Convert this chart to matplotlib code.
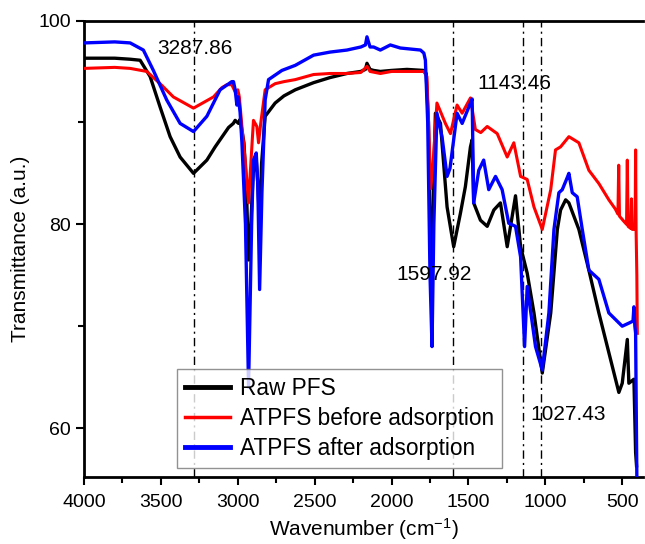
import matplotlib
matplotlib.use("Agg")
import matplotlib.pyplot as plt
from matplotlib.ticker import MultipleLocator

plt.rcParams['font.family'] = ['Liberation Sans', 'DejaVu Sans']
plt.rcParams['mathtext.default'] = 'regular'

# ---------------- data ----------------
raw_x = [4000, 3800, 3700, 3635, 3570, 3505, 3440, 3375, 3288, 3201, 3147, 3115, 3060, 3029, 3017,
         2995, 2985, 2960, 2945, 2930, 2915, 2900, 2882, 2870, 2858, 2845, 2822, 2757, 2700, 2626,
         2507, 2400, 2290, 2200, 2170, 2160, 2140, 2117, 2073, 2000, 1900, 1791, 1775, 1760, 1745,
         1738, 1725, 1715, 1682, 1639, 1596, 1552, 1520, 1487, 1476, 1466, 1422, 1378, 1335, 1292,
         1248, 1194, 1161, 1118, 1074, 1020, 965, 922, 901, 868, 847, 782, 717, 652, 587, 522, 500,
         467, 457, 424, 413, 407]
raw_y = [96.3, 96.3, 96.2, 96.1, 94.5, 91.5, 88.6, 86.6, 85.0, 86.3, 87.6, 88.3, 89.5, 89.9, 90.2,
         89.9, 90.3, 88.0, 84.0, 76.5, 80.0, 85.0, 86.8, 84.0, 80.0, 86.0, 90.6, 91.9, 92.6, 93.2,
         93.9, 94.4, 94.8, 95.0, 95.2, 95.8, 95.2, 95.1, 95.0, 95.1, 95.2, 95.1, 94.8, 90.0, 76.0,
         74.0, 85.0, 90.9, 89.9, 81.7, 77.8, 81.1, 83.7, 87.6, 88.3, 82.1, 80.4, 79.8, 81.4, 82.1,
         77.8, 82.8, 77.8, 75.2, 71.3, 65.4, 71.3, 79.5, 81.4, 82.4, 82.1, 79.5, 75.5, 71.3, 67.4, 63.5, 64.4,
         68.7, 64.4, 64.8, 57.6, 56.3]

before_x = [4000, 3800, 3700, 3592, 3505, 3419, 3288, 3158, 3104, 3071, 3039, 3017, 3000, 2990, 2973,
            2950, 2930, 2915, 2898, 2876, 2865, 2850, 2822, 2757, 2700, 2626, 2507, 2400, 2290, 2200,
            2160, 2140, 2073, 2000, 1900, 1791, 1770, 1755, 1745, 1730, 1705, 1650, 1617, 1574, 1541,
            1487, 1455, 1420, 1378, 1313, 1248, 1205, 1161, 1118, 1074, 1020, 965, 934, 901, 847, 782,
            717, 652, 587, 545, 528, 523, 518, 490, 472, 467, 462, 445, 440, 435, 420, 416, 413, 410,
            405, 402]
before_y = [95.3, 95.4, 95.3, 95.0, 93.8, 92.5, 91.4, 92.5, 93.4, 93.7, 93.7, 93.0, 93.2, 92.5, 89.6,
            86.0, 82.1, 86.0, 90.2, 89.6, 88.0, 90.0, 93.2, 93.8, 94.0, 94.2, 94.7, 94.8, 94.8, 94.9,
            95.5, 95.0, 94.8, 95.0, 95.0, 95.0, 94.5, 88.0, 83.5, 86.0, 91.9, 89.9, 88.9, 91.7, 90.9,
            92.4, 89.3, 89.0, 89.6, 88.9, 86.6, 88.0, 84.7, 84.4, 81.7, 79.5, 83.4, 87.3, 87.6, 88.6, 88.0,
            85.3, 84.0, 82.4, 81.5, 81.0, 85.8, 80.8, 80.3, 80.0, 86.3, 79.8, 79.6, 82.5, 79.5, 79.5, 80.0,
            87.3, 79.5, 75.0, 69.3]

after_x = [4000, 3800, 3700, 3614, 3549, 3462, 3375, 3288, 3201, 3115, 3039, 3028, 3017, 3006, 2997,
           2985, 2973, 2950, 2930, 2910, 2898, 2880, 2870, 2858, 2843, 2822, 2800, 2713, 2626, 2507,
           2400, 2290, 2200, 2170, 2160, 2140, 2117, 2073, 2008, 1943, 1812, 1790, 1780, 1765, 1750,
           1737, 1725, 1705, 1672, 1639, 1620, 1574, 1541, 1487, 1476, 1466, 1433, 1401, 1368, 1324,
           1281, 1238, 1194, 1161, 1135, 1118, 1064, 1020, 977, 944, 912, 890, 860, 847, 825, 793, 760,
           717, 652, 587, 500, 457, 430, 424, 418, 413, 409, 405]
after_y = [97.8, 97.9, 97.8, 97.1, 95.1, 92.2, 89.9, 89.1, 90.6, 93.2, 94.0, 94.0, 93.2, 91.7, 92.5,
           91.0, 88.0, 80.0, 64.0, 80.0, 86.3, 87.0, 84.0, 73.6, 83.1, 92.2, 94.2, 95.1, 95.6, 96.6,
           96.9, 97.1, 97.4, 97.6, 98.4, 97.4, 97.4, 97.1, 97.6, 97.3, 97.1, 96.8, 96.1, 90.0, 75.0,
           68.0, 80.0, 90.9, 88.6, 84.7, 85.5, 90.9, 89.9, 91.9, 92.3, 82.1, 85.3, 86.3, 83.4, 84.7,
           83.4, 80.1, 79.8, 76.8, 68.0, 73.9, 68.0, 65.7, 71.3, 79.5, 83.1, 83.4, 84.5, 85.0, 83.1, 82.7, 79.5,
           75.5, 74.6, 71.3, 70.0, 70.3, 70.5, 71.9, 70.0, 69.3, 62.0, 55.2]

series_names = ['Raw PFS', 'ATPFS before adsorption', 'ATPFS after adsorption']
series_colors = ['#000000', '#ff0000', '#0000ff']

peak_positions = [3287.86, 1597.92, 1143.46, 1027.43]
peak_labels = ['3287.86', '1597.92', '1143.46', '1027.43']
label_xy = [(3281, 97.3), (1726, 75.05), (1202, 93.84), (850, 61.3)]

x_ticks = [4000, 3500, 3000, 2500, 2000, 1500, 1000, 500]
y_ticks = [60, 80, 100]

# ---------------- figure ----------------
fig = plt.figure(figsize=(6.45, 5.44), dpi=100)
ax = fig.add_axes([84/645, 1 - 477/544, (643-84)/645, (477-20.5)/544])

for px in peak_positions:
    ax.axvline(px, color='black', lw=1.0, linestyle=(0, (6, 3, 1.5, 3)), zorder=1)

ax.plot(raw_x, raw_y, color=series_colors[0], lw=2.4, label=series_names[0], zorder=2)
ax.plot(before_x, before_y, color=series_colors[1], lw=2.2, label=series_names[1], zorder=3)
ax.plot(after_x, after_y, color=series_colors[2], lw=2.4, label=series_names[2], zorder=4)

for lab, (lx, ly) in zip(peak_labels, label_xy):
    ax.text(lx, ly, lab, fontsize=15, ha='center', va='center', zorder=5)

ax.set_xlim(4000, 365)
ax.set_ylim(55.2, 100)
ax.set_xticks(x_ticks)
ax.set_yticks(y_ticks)
ax.xaxis.set_minor_locator(MultipleLocator(250))
ax.yaxis.set_minor_locator(MultipleLocator(10))
ax.tick_params(axis='both', which='major', direction='out', length=6, width=1.5, labelsize=14)
ax.tick_params(axis='both', which='minor', direction='out', length=4, width=1.5)
ax.tick_params(axis='x', pad=6)

for s in ['top', 'left', 'bottom']:
    ax.spines[s].set_linewidth(2.0)
ax.spines['right'].set_visible(False)

ax.set_xlabel('Wavenumber (cm$^{-1}$)', fontsize=15, labelpad=4)
ax.set_ylabel('Transmittance (a.u.)', fontsize=15, labelpad=6)

leg = ax.legend(loc='lower left', bbox_to_anchor=(0.166, 0.02), borderaxespad=0,
                fontsize=16.3, frameon=True, fancybox=False, edgecolor='#777777',
                handlelength=2.0, labelspacing=0.3, borderpad=0.35, handletextpad=0.45)
leg.get_frame().set_linewidth(1.0)
lws = [3.5, 2.5, 3.5]
for h, w in zip(leg.legend_handles, lws):
    h.set_linewidth(w)
leg.set_zorder(10)

fig.savefig('out.png', dpi=100)
